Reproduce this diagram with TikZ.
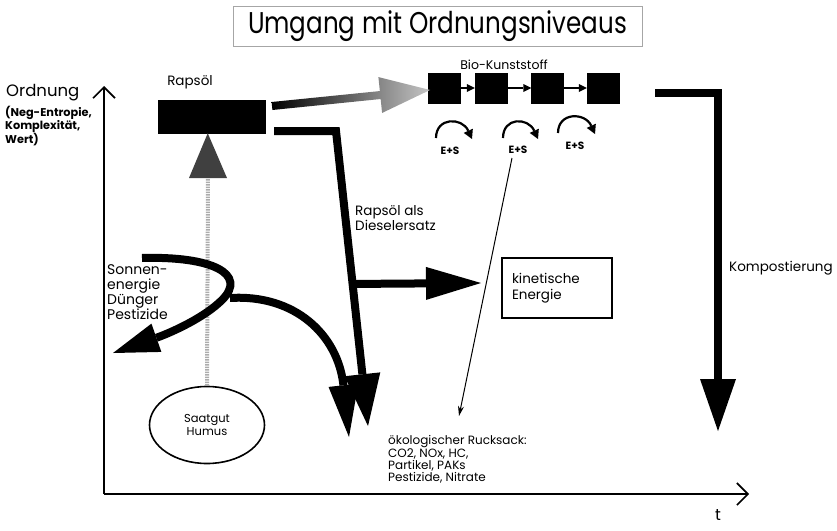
\documentclass[tikz,border=0pt]{standalone}
\usepackage{fontspec}
\setmainfont{Poppins}
\newfontfamily\titlefont[FakeStretch=0.82]{Poppins}
\usetikzlibrary{arrows.meta,calc,shapes.geometric}
\newcommand{\fsz}[2]{\fontsize{#1}{#2}\selectfont}
\begin{document}
\begin{tikzpicture}[x=1pt,y=-1pt,
  lbl/.style={inner sep=0pt, anchor=west, align=left},
  blk/.style={fill=black, draw=black, inner sep=0pt},
  sq/.style={blk, minimum width=32pt, minimum height=30pt},
  fat/.style={line width=8pt, -{Triangle[width=36pt,length=52pt,line width=0pt]}},
  small/.style={line width=1.8pt, -{Triangle[length=8pt,width=8pt,line width=0pt]}},
  es/.style={line width=2.2pt, -{Triangle[length=9pt,width=10pt,line width=0pt]}},
  axis/.style={line width=1.6pt, -{Straight Barb[length=11pt,width=22pt]}}]
\useasboundingbox (0,0) rectangle (837,530);

% title
\node[draw=gray!70, line width=0.6pt, minimum width=409pt, minimum height=40pt, inner sep=0pt] (title) at (437.5,26)
  {\titlefont\fsz{30}{30}Umgang mit Ordnungsniveaus};

% axes
\coordinate (O) at (104,494);
\coordinate (Ytop) at (104,86);
\coordinate (Xend) at (749,494);
\draw[axis] (O) -- (Ytop);
\draw[axis] (O) -- (Xend);
\node[font=\fsz{16}{16}, inner sep=0pt] (t) at (718,515) {t};
\node[lbl, font=\fsz{16.5}{17}] (ord) at (6,93) {Ordnung};
\node[lbl, anchor=north west, font=\bfseries\fsz{11.3}{13}] (ordsub) at (5,106) {(Neg-Entropie,\\Komplexität,\\Wert)};

% Rapsoel
\node[font=\fsz{13.5}{14}] (rlab) at (190,82) {Rapsöl};
\node[blk, minimum width=107pt, minimum height=33pt] (rb) at (211.5,116.5) {};

% Bio-Kunststoff chain
\node[font=\fsz{12.5}{13}] (blab) at (504,65) {Bio-Kunststoff};
\node[sq] (b1) at (444,88) {};
\node[sq] (b2) at (491,88) {};
\node[sq] (b3) at (547.5,88) {};
\node[sq] (b4) at (603,88) {};
\draw[small] (b1.east) -- (b2.west);
\draw[small] (b2.east) -- (b3.west);
\draw[small] (b3.east) -- (b4.west);

% shaded arrow Rapsoel -> Bio-Kunststoff
\shade[left color=black, right color=gray!45]
  (271.6,102) -- (379.85,91.06) -- (378.4,77.1) -- (430,90) -- (382.1,112.95) -- (380.65,99.02) -- (272.4,110) -- cycle;

% E+S
\node[font=\bfseries\fsz{10.5}{11}] (es1) at (450,151) {E+S};
\node[font=\bfseries\fsz{10.5}{11}] (es2) at (518,150) {E+S};
\node[font=\bfseries\fsz{10.5}{11}] (es3) at (575,146) {E+S};
\draw[es] (436,138) .. controls (436,117) and (462,117) .. (472,139);
\draw[es] (503,138) .. controls (503,117) and (528,117) .. (538,139);
\draw[es] (558,133) .. controls (558,112) and (585,112) .. (595,134);

% Kompostierung
\coordinate (kstart) at (655,93);
\coordinate (kcorner) at (718,93);
\coordinate (kend) at (718,431);
\draw[fat] (kstart) -- (kcorner) -- (kend);
\node[lbl, font=\fsz{13.5}{14}] (komp) at (729,268) {Kompostierung};

% Diesel
\coordinate (dstart) at (274,131);
\coordinate (dcorner) at (336,131);
\coordinate (dend) at (368,426);
\draw[fat] (dstart) -- (dcorner) -- (dend);
\node[lbl, font=\fsz{13.5}{15}] (dlab) at (355,218.5) {Rapsöl als\\Dieselersatz};
\coordinate (kbranch) at ($(dcorner)!0.5185!(dend)$);
\node[draw, line width=1.5pt, text width=90pt, inner xsep=10pt, minimum height=60pt, align=left, font=\fsz{13.5}{15.5}] (kin) at (557,288) {kinetische\\Energie};
\coordinate (kinIn) at (481,283);
\draw[line width=8pt, -{Triangle[width=33pt,length=55pt,line width=0pt]}] (kbranch) -- (kinIn);

% Saatgut
\node[ellipse, draw, line width=1.6pt, minimum width=115pt, minimum height=77pt, align=center, font=\fsz{11.5}{12.5}] (ell) at (207,425) {Saatgut\\Humus};

% gray up arrow
\coordinate (uptip) at ($(rb.south west)!0.465!(rb.south east)$);
\coordinate (upbase) at (208,178);
\draw[gray!65, line width=4pt, dash pattern=on 1.5pt off 1pt] (ell.north) -- (upbase);
\fill[black!75] (uptip) -- ($(upbase)+(-19,0)$) -- ($(upbase)+(19,0)$) -- cycle;

% left curves
\draw[line width=8pt, -{Triangle[width=30pt,length=46pt,line width=0pt]}] (142,258) .. controls (212,256) and (248,274) .. (222,300) .. controls (204,318) and (170,333) .. (113,353);
\draw[line width=8pt, -{Triangle[width=30pt,length=52pt,line width=0pt]}] (230,298) .. controls (295,294) and (338,335) .. (349,437);
\node[lbl, anchor=north west, font=\fsz{14}{15}] (sonne) at (107,264) {Sonnen-\\energie\\Dünger\\Pestizide};

% Rucksack
\node[lbl, anchor=north west, font=\fsz{12}{12}] (rs) at (388,435) {ökologischer Rucksack:\\CO2, NOx, HC,\\Partikel, PAKs\\Pestizide, Nitrate};
\coordinate (thinS) at (512,158);
\coordinate (thinE) at (459,416);
\draw[line width=1pt, -{Stealth[length=10pt,width=6pt]}] (thinS) -- (thinE);
\end{tikzpicture}
\end{document}
